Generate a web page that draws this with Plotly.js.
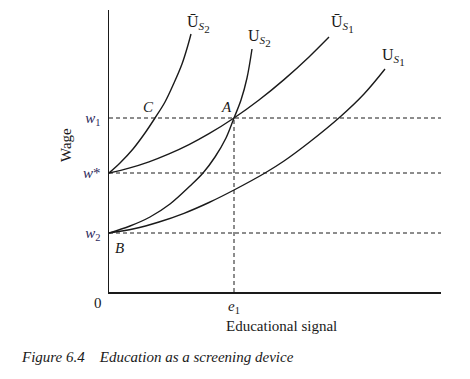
<!DOCTYPE html>
<html><head><meta charset="utf-8">
<script src="https://cdn.plot.ly/plotly-3.0.1.min.js"></script>
<style>body{margin:0;background:#fff}#chart{width:470px;height:379px}</style>
</head><body><div id="chart"></div>
<script>
// Key levels (data units: x = education signal, y = wage)
const w1 = 174, wStar = 119, w2 = 59, e1 = 125;
// Indifference curves
const uBarS2_x = [0, 11, 24, 36, 46, 56, 65, 73, 79, 82];
const uBarS2_y = [119, 129, 143, 159, 174, 190, 209, 228, 247, 258];
const uS2_x = [0, 21, 41, 61, 81, 94, 106, 117, 125, 132, 138, 143];
const uS2_y = [59, 66, 75, 88, 106, 119, 135, 154, 174, 192, 214, 243];
const uBarS1_x = [0, 20, 40, 60, 80, 100, 125, 150, 175, 200, 220];
const uBarS1_y = [119, 123.9, 130.2, 138.1, 147.4, 158.3, 174, 192, 212.4, 235.1, 255];
const uS1_x = [0, 25, 50, 75, 100, 125, 156, 175, 200, 231, 255, 276];
const uS1_y = [59, 63.2, 70, 78.7, 89.5, 102, 119, 131, 149.5, 175, 198, 223];
const yTickVals = [w2, wStar, w1];
const yTickText = ['<i>w</i><sub>2</sub>', '<i>w</i>*', '<i>w</i><sub>1</sub>'];
const sub2 = n => '<sub><i>S</i><sub><span style="font-size:11px">' + n + '</span></sub></sub>';
const curveNames = ['Ū' + sub2(2), 'U' + sub2(2), 'Ū' + sub2(1), 'U' + sub2(1)];

const font = 'Liberation Serif, Times New Roman, serif';
const ink = '#1a1a1a';
const line = {color: ink, width: 1.4, shape: 'spline', smoothing: 1};
const traces = [
  {x: uBarS2_x, y: uBarS2_y},
  {x: uS2_x, y: uS2_y},
  {x: uBarS1_x, y: uBarS1_y},
  {x: uS1_x, y: uS1_y}
].map(t => Object.assign(t, {type: 'scatter', mode: 'lines', line: line, hoverinfo: 'skip', cliponaxis: false}));

const dash = {color: ink, width: 1, dash: '4px,3px'};
const xEnd = 332;
const shapes = [
  {type: 'line', xref: 'x', yref: 'y', x0: 0, x1: xEnd, y0: w1, y1: w1, line: dash},
  {type: 'line', xref: 'x', yref: 'y', x0: 0, x1: xEnd, y0: wStar, y1: wStar, line: dash},
  {type: 'line', xref: 'x', yref: 'y', x0: 0, x1: xEnd, y0: w2, y1: w2, line: dash},
  {type: 'line', xref: 'x', yref: 'y', x0: e1, x1: e1, y0: 0, y1: w1, line: dash}
];

const f15 = {family: font, size: 15, color: ink};
const fCurve = {family: font, size: 16, color: ink};
const lbl = (x, y, text, extra) => Object.assign({x: x, y: y, xref: 'x', yref: 'y', text: text, showarrow: false,
  font: f15}, extra || {});
const annotations = [
  lbl(89.5, 268, curveNames[0], {font: fCurve}),
  lbl(150, 254, curveNames[1], {font: fCurve}),
  lbl(233, 268, curveNames[2], {font: fCurve}),
  lbl(284, 235, curveNames[3], {font: fCurve}),
  lbl(39, 185, '<i>C</i>'),
  lbl(117, 185, '<i>A</i>'),
  lbl(10, 44, '<i>B</i>'),
  lbl(e1, 0, '<i>e</i><sub>1</sub>', {yshift: -15}),
  lbl(0, 0, '0', {xshift: -11, yshift: -11})
];
// text placed in the page margins (pixel positions -> paper coords)
const L = 109, R = 29, T = 10, B = 87, W = 470, H = 379;
const pw = W - L - R, ph = H - T - B;
const marg = (px, py, text, angle) => ({x: (px - L) / pw, y: (H - py - B) / ph, xref: 'paper', yref: 'paper',
  xanchor: 'center', yanchor: 'middle', text: text, textangle: angle || 0, showarrow: false, font: f15});
annotations.push(marg(66, 145, 'Wage', -90));
annotations.push(marg(281, 326, 'Educational signal'));
annotations.push(marg(157, 357, '<i>Figure 6.4    Education as a screening device</i>'));

const layout = {
  width: W, height: H,
  margin: {l: L, r: R, t: T, b: B, pad: 0},
  paper_bgcolor: '#fff', plot_bgcolor: '#fff',
  showlegend: false,
  xaxis: {range: [0, xEnd], showgrid: false, zeroline: false, showline: true, linecolor: ink, linewidth: 1.5,
    showticklabels: false, ticks: '', fixedrange: true},
  yaxis: {range: [0, 282], showgrid: false, zeroline: false, showline: true, linecolor: ink, linewidth: 1.5,
    tickvals: yTickVals, ticktext: yTickText, ticks: '', ticklabelstandoff: 4,
    tickfont: {family: font, size: 15, color: '#2e2a5c'}, fixedrange: true},
  shapes: shapes,
  annotations: annotations,
  font: {family: font, color: ink}
};
Plotly.newPlot('chart', traces, layout, {displayModeBar: false, staticPlot: true});
</script></body></html>
